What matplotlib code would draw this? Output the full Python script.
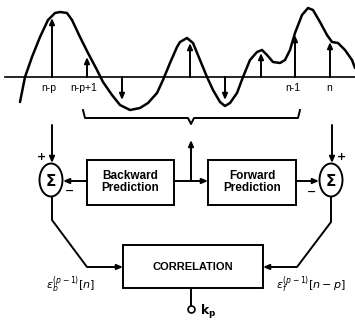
import matplotlib
matplotlib.use('Agg')
import matplotlib.pyplot as plt
from matplotlib.patches import Rectangle, Ellipse

# signal curve (pixel coords, y down)
curve_x = [20, 25, 32, 40, 48, 55, 60, 67, 72, 80, 88, 97, 103, 112, 120, 130, 140, 148,
           157, 163, 170, 177, 180, 187, 193, 200, 207, 213, 220, 225, 230, 237, 243,
           250, 257, 262, 267, 273, 280, 285, 290, 295, 302, 308, 313, 320, 327, 332,
           338, 345, 352, 355]
curve_y = [102, 77, 57, 37, 20, 13, 12, 13, 20, 37, 53, 70, 82, 95, 105, 110, 108, 103,
           93, 80, 63, 47, 42, 38, 43, 60, 77, 90, 102, 106, 103, 93, 77,
           60, 52, 50, 55, 62, 63, 60, 50, 33, 15, 8, 10, 22, 35, 42,
           43, 50, 60, 68]

# sample stems
stem_x = [52, 87, 122, 190, 225, 261, 295, 330]
stem_y = [18, 57, 100, 43, 100, 53, 35, 42]
baseline = 77

sample_labels = ['n-p', 'n-p+1', 'n-1', 'n']
sample_label_x = [49, 84, 293, 329]

fig = plt.figure(figsize=(3.55, 3.2), dpi=100)
ax = fig.add_axes([0, 0, 1, 1])
ax.set_xlim(0, 355)
ax.set_ylim(320, 0)
ax.axis('off')

lw = 1.4
narrow = ['Liberation Sans Narrow', 'Liberation Sans', 'DejaVu Sans']


def arrow(x0, y0, x1, y1):
    ax.annotate('', xy=(x1, y1), xytext=(x0, y0),
                arrowprops=dict(arrowstyle='-|>,head_length=0.35,head_width=0.15',
                                lw=lw, color='k', shrinkA=0, shrinkB=0))


# waveform and axis
ax.plot([5, 355], [baseline, baseline], color='k', lw=1.2)
ax.plot(curve_x, curve_y, color='k', lw=1.8, solid_capstyle='round',
        solid_joinstyle='round')
for x, y in zip(stem_x, stem_y):
    arrow(x, baseline, x, y)
for lab, x in zip(sample_labels, sample_label_x):
    ax.text(x, 88, lab, ha='center', va='center', fontsize=7.5, family=narrow)

# brace
ax.plot([83, 85, 188, 191, 194, 298, 300], [110, 118, 118, 124, 118, 118, 110],
        color='k', lw=lw)
arrow(191, 181, 191, 140)

# sigma nodes
for cx in [51, 331]:
    ax.add_patch(Ellipse((cx, 180), 23, 33, fill=False, lw=lw, color='k'))
    ax.text(cx, 181, 'Σ', ha='center', va='center', fontsize=11, fontweight='bold')
arrow(52, 125, 52, 163)
arrow(332, 125, 332, 163)
ax.text(42, 157, '+', ha='center', va='center', fontsize=8, fontweight='bold')
ax.text(341, 157, '+', ha='center', va='center', fontsize=8, fontweight='bold')
ax.text(70, 191, '−', ha='center', va='center', fontsize=8, fontweight='bold')
ax.text(312, 192, '−', ha='center', va='center', fontsize=8, fontweight='bold')

# prediction boxes
boxes = [(87, 174, 'Backward\nPrediction'), (208, 296, 'Forward\nPrediction')]
for x0, x1, txt in boxes:
    ax.add_patch(Rectangle((x0, 160), x1 - x0, 45, fill=False, lw=lw, color='k'))
    ax.text((x0 + x1) / 2, 182, txt, ha='center', va='center', fontsize=8.5,
            family=narrow, fontweight='bold', linespacing=1.0)
ax.plot([174, 191], [181, 181], color='k', lw=lw)
arrow(191, 181, 208, 181)
arrow(87, 181, 63, 181)
arrow(296, 181, 319, 181)

# correlation
ax.add_patch(Rectangle((123, 245), 140, 43, fill=False, lw=lw, color='k'))
ax.text(193, 267, 'CORRELATION', ha='center', va='center', fontsize=8,
        family=narrow, fontweight='bold')
ax.plot([52, 52, 87, 110], [197, 220, 267, 267], color='k', lw=lw)
arrow(110, 267, 123, 267)
ax.plot([331, 331, 297, 276], [197, 222, 267, 267], color='k', lw=lw)
arrow(276, 267, 263, 267)
ax.plot([191, 191], [288, 306], color='k', lw=lw)
ax.plot([191], [309], marker='o', ms=5, mfc='white', mec='k', mew=1.2)
ax.text(200, 312, r'$\mathbf{k_p}$', ha='left', va='center', fontsize=9)

ax.text(71, 285, r'$\epsilon_b^{(p-1)}[n]$', ha='center', va='center', fontsize=8)
ax.text(311, 285, r'$\epsilon_f^{(p-1)}[n-p]$', ha='center', va='center', fontsize=8)

plt.savefig('out.png', dpi=100)
